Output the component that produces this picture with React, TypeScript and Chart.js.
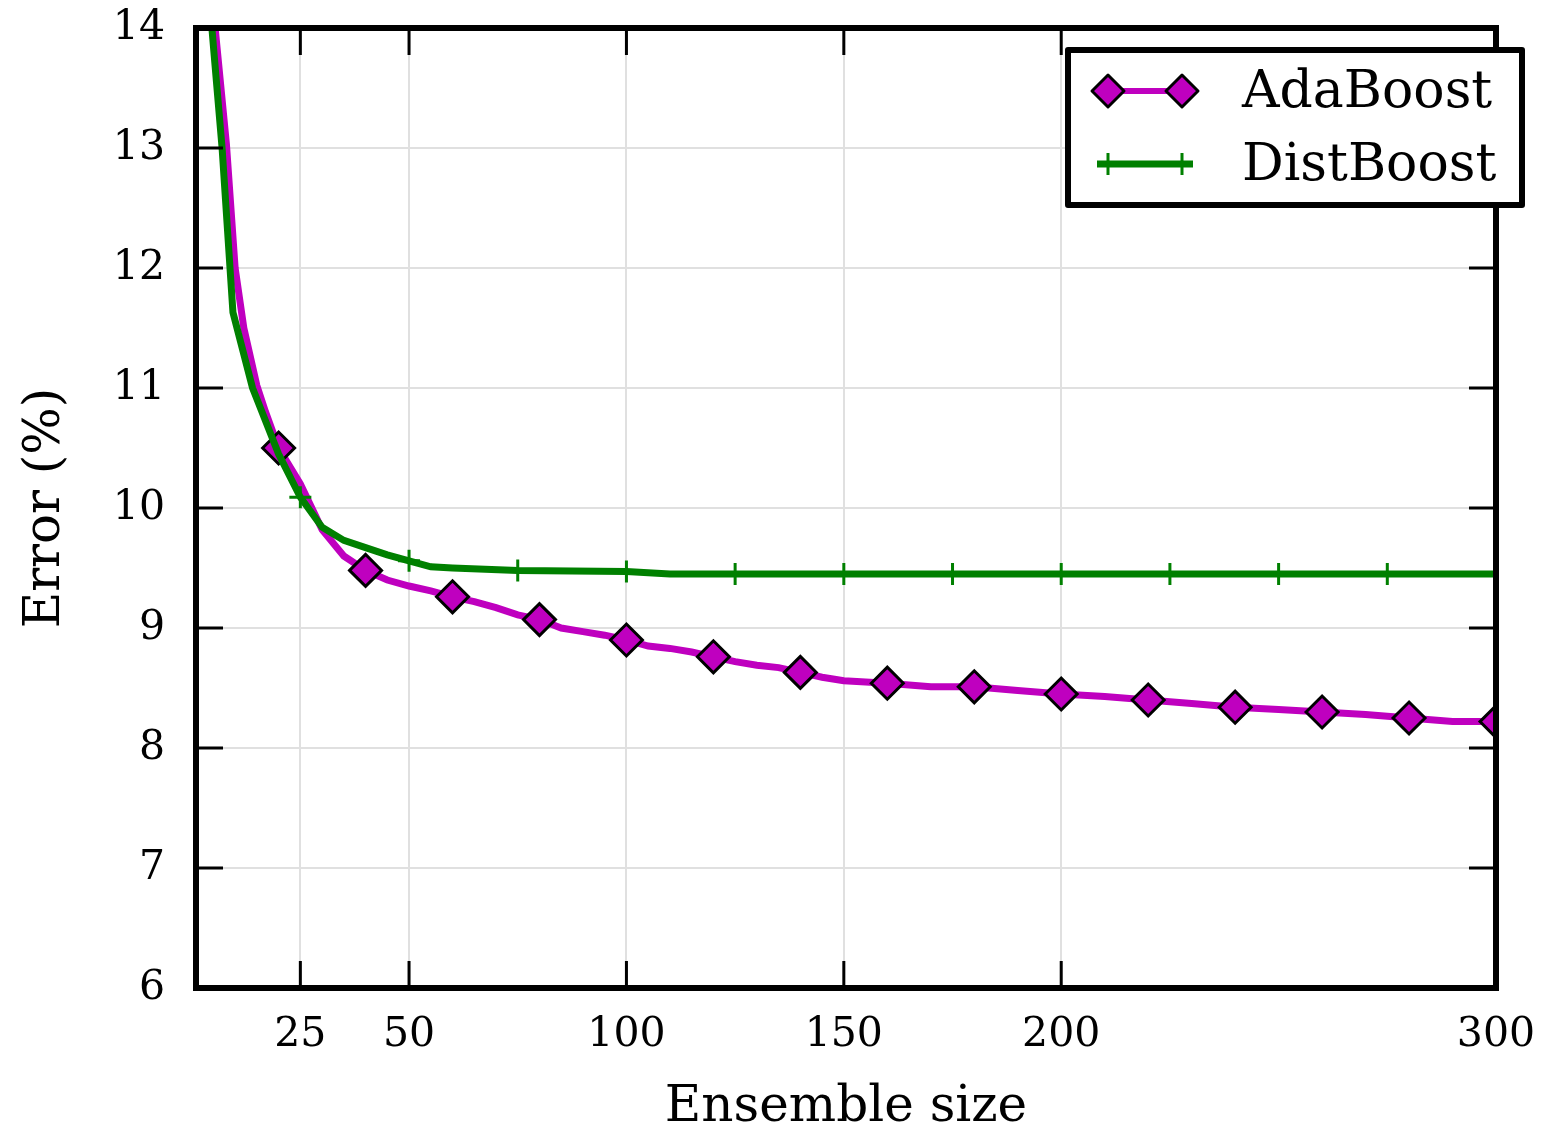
import React, { useEffect, useRef } from "react";
import { Chart, registerables } from "chart.js";

Chart.register(...registerables);

// Ensemble sizes and test error (%) for each boosting method
const ADA_X = [1, 3, 5, 8, 10, 12, 15, 17, 20, 25, 30, 35, 40, 45, 50, 55, 60, 65, 70, 75, 80, 85, 90, 95, 100, 105, 110, 115, 120, 125, 130, 135, 140, 145, 150, 155, 160, 170, 180, 190, 200, 210, 220, 230, 240, 250, 260, 270, 280, 290, 300];
const ADA_Y = [15.8, 14.9, 14.15, 13.03, 12.0, 11.5, 11.02, 10.8, 10.5, 10.2, 9.82, 9.6, 9.48, 9.4, 9.35, 9.31, 9.26, 9.22, 9.17, 9.11, 9.07, 9.0, 8.97, 8.94, 8.9, 8.85, 8.83, 8.8, 8.76, 8.72, 8.69, 8.67, 8.63, 8.59, 8.56, 8.55, 8.54, 8.51, 8.51, 8.48, 8.45, 8.43, 8.4, 8.37, 8.34, 8.32, 8.3, 8.28, 8.25, 8.22, 8.22];

const DIST_X = [1, 5, 7, 9.5, 14, 20, 25, 30, 35, 40, 45, 50, 55, 60, 75, 100, 110, 125, 150, 175, 200, 225, 250, 275, 300];
const DIST_Y = [15.6, 13.85, 13.0, 11.63, 11.0, 10.45, 10.09, 9.84, 9.73, 9.67, 9.61, 9.56, 9.51, 9.5, 9.48, 9.47, 9.45, 9.45, 9.45, 9.45, 9.45, 9.45, 9.45, 9.45, 9.45];

const X_TICKS = [25, 50, 100, 150, 200, 300];
const SERIES_NAMES = ["AdaBoost", "DistBoost"];
const X_TITLE = "Ensemble size";
const Y_TITLE = "Error (%)";

const MAGENTA = "rgb(191,0,191)";
const GREEN = "rgb(0,128,0)";
const GRID = "rgb(224,224,224)";
const FONT = "'DejaVu Serif', serif";

function drawDiamond(ctx: CanvasRenderingContext2D, x: number, y: number, r: number) {
  ctx.beginPath();
  ctx.moveTo(x, y - r);
  ctx.lineTo(x + r, y);
  ctx.lineTo(x, y + r);
  ctx.lineTo(x - r, y);
  ctx.closePath();
  ctx.fillStyle = MAGENTA;
  ctx.fill();
  ctx.lineWidth = 3;
  ctx.strokeStyle = "#000";
  ctx.stroke();
}

function drawCross(ctx: CanvasRenderingContext2D, x: number, y: number, r: number) {
  ctx.beginPath();
  ctx.moveTo(x - r, y);
  ctx.lineTo(x + r, y);
  ctx.moveTo(x, y - r);
  ctx.lineTo(x, y + r);
  ctx.lineWidth = 3;
  ctx.strokeStyle = GREEN;
  ctx.stroke();
}

// Thick frame with inward ticks on all four sides, plus the legend box
const framePlugin = {
  id: "frame",
  afterDatasetsDraw(chart: any) {
    const { ctx, chartArea: a, scales } = chart;
    const xs = scales.x;
    const ys = scales.y;
    const len = 27;
    ctx.save();
    ctx.strokeStyle = "#000";
    ctx.lineWidth = 3;
    ctx.beginPath();
    xs.ticks.forEach((t: any) => {
      const px = xs.getPixelForValue(t.value);
      if (px > a.right - 2) return;
      ctx.moveTo(px, a.bottom);
      ctx.lineTo(px, a.bottom - len);
      ctx.moveTo(px, a.top);
      ctx.lineTo(px, a.top + len);
    });
    ys.ticks.forEach((t: any) => {
      const py = ys.getPixelForValue(t.value);
      if (py < a.top + 2 || py > a.bottom - 2) return;
      ctx.moveTo(a.left, py);
      ctx.lineTo(a.left + len, py);
      ctx.moveTo(a.right, py);
      ctx.lineTo(a.right - len, py);
    });
    ctx.stroke();
    ctx.lineWidth = 6;
    ctx.strokeRect(a.left, a.top, a.right - a.left, a.bottom - a.top);
    ctx.restore();
  },
  afterDraw(chart: any) {
    const { ctx, chartArea: a } = chart;
    const right = a.right + 26;
    const left = right - 454;
    const top = a.top + 22;
    const h = 155;
    ctx.save();
    ctx.fillStyle = "#fff";
    ctx.fillRect(left, top, right - left, h);
    ctx.lineWidth = 6;
    ctx.strokeStyle = "#000";
    ctx.lineJoin = "round";
    ctx.strokeRect(left, top, right - left, h);

    const rows = [top + 41, top + 114];
    const x0 = left + 40;
    const x1 = left + 114;
    // AdaBoost row
    ctx.beginPath();
    ctx.moveTo(x0, rows[0]);
    ctx.lineTo(x1, rows[0]);
    ctx.lineWidth = 6;
    ctx.strokeStyle = MAGENTA;
    ctx.stroke();
    drawDiamond(ctx, x0, rows[0], 16);
    drawDiamond(ctx, x1, rows[0], 16);
    // DistBoost row
    ctx.beginPath();
    ctx.moveTo(x0 - 11, rows[1]);
    ctx.lineTo(x1 + 11, rows[1]);
    ctx.lineWidth = 7;
    ctx.strokeStyle = GREEN;
    ctx.stroke();
    drawCross(ctx, x0, rows[1], 11);
    drawCross(ctx, x1, rows[1], 11);

    ctx.fillStyle = "#000";
    ctx.font = `52px ${FONT}`;
    ctx.textAlign = "left";
    ctx.textBaseline = "middle";
    ctx.fillText(SERIES_NAMES[0], left + 174, rows[0] + 2);
    ctx.fillText(SERIES_NAMES[1], left + 174, rows[1] + 2);
    ctx.restore();
  },
};

export default function App() {
  const ref = useRef<HTMLCanvasElement>(null);

  useEffect(() => {
    document.body.style.margin = "0";
    const canvas = ref.current;
    if (!canvas) return;

    const ada = ADA_X.map((x, i) => ({ x, y: ADA_Y[i] }));
    const dist = DIST_X.map((x, i) => ({ x, y: DIST_Y[i] }));

    const chart = new Chart(canvas, {
      type: "line",
      data: {
        datasets: [
          {
            label: SERIES_NAMES[0],
            data: ada,
            borderColor: MAGENTA,
            backgroundColor: MAGENTA,
            borderWidth: 7,
            pointStyle: "rectRot",
            pointRadius: (c: any) => (c.raw && c.raw.x >= 20 && c.raw.x % 20 === 0 ? 16 : 0),
            pointBackgroundColor: MAGENTA,
            pointBorderColor: "#000",
            pointBorderWidth: 3,
            tension: 0,
            clip: 0,
            order: 2,
          },
          {
            label: SERIES_NAMES[1],
            data: dist,
            borderColor: GREEN,
            backgroundColor: GREEN,
            borderWidth: 7,
            pointStyle: "cross",
            pointRadius: (c: any) => (c.raw && c.raw.x >= 25 && c.raw.x % 25 === 0 ? 11 : 0),
            pointBorderColor: GREEN,
            pointBorderWidth: 3,
            tension: 0,
            clip: 0,
            order: 1,
          },
        ],
      },
      options: {
        animation: false,
        responsive: false,
        maintainAspectRatio: false,
        events: [],
        layout: { autoPadding: false, padding: { top: 28, right: 45, left: 0, bottom: 0 } },
        plugins: {
          legend: { display: false },
          tooltip: { enabled: false },
        },
        scales: {
          x: {
            type: "linear",
            min: 1,
            max: 300,
            afterBuildTicks: (s: any) => {
              s.ticks = X_TICKS.map((v) => ({ value: v }));
            },
            afterFit: (s: any) => {
              s.height = 137;
              s.paddingLeft = 0;
              s.paddingRight = 0;
            },
            grid: { color: GRID, lineWidth: 2, drawTicks: false },
            border: { display: false },
            ticks: {
              font: { family: FONT, size: 41 },
              color: "#000",
              padding: 23,
              maxRotation: 0,
              autoSkip: false,
            },
            title: {
              display: true,
              text: X_TITLE,
              color: "#000",
              font: { family: FONT, size: 50, lineHeight: 1 },
              padding: { top: 0, bottom: -8 },
            },
          },
          y: {
            type: "linear",
            min: 6,
            max: 14,
            afterFit: (s: any) => {
              s.width = 196;
              s.paddingTop = 0;
              s.paddingBottom = 0;
            },
            grid: { color: GRID, lineWidth: 2, drawTicks: false },
            border: { display: false },
            ticks: {
              stepSize: 1,
              font: { family: FONT, size: 41 },
              color: "#000",
              padding: 31,
            },
            title: {
              display: true,
              text: Y_TITLE,
              color: "#000",
              font: { family: FONT, size: 50, lineHeight: 1 },
              padding: { top: 21, bottom: 0 },
            },
          },
        },
      },
      plugins: [framePlugin],
    } as any);

    return () => chart.destroy();
  }, []);

  return (
    <div style={{ width: 1541, height: 1125, background: "#fff" }}>
      <canvas ref={ref} width={1541} height={1125} style={{ display: "block" }} />
    </div>
  );
}
